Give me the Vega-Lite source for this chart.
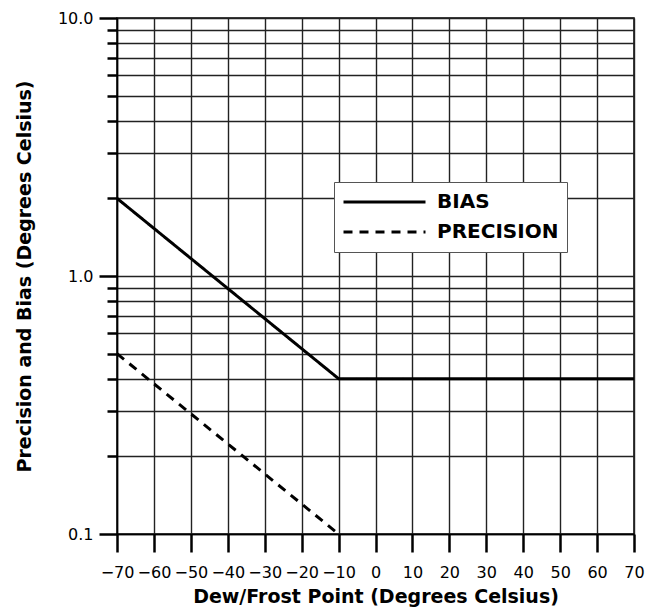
{
  "$schema": "https://vega.github.io/schema/vega-lite/v6.json",
  "width": 517,
  "height": 516,
  "autosize": {"type": "none"},
  "padding": {"left": 117, "top": 18, "right": 20, "bottom": 74},
  "background": "white",
  "config": {
    "font": "DejaVu Sans",
    "view": {"stroke": "black", "strokeWidth": 1.5},
    "axis": {
      "gridColor": "#222",
      "gridOpacity": 1,
      "gridWidth": 1.4,
      "domainColor": "black",
      "domainWidth": 1.5,
      "labelFont": "DejaVu Sans",
      "labelFontSize": 16,
      "labelColor": "black",
      "titleFont": "DejaVu Sans",
      "titleFontSize": 19,
      "titleFontWeight": "bold",
      "titleColor": "black"
    }
  },
  "data": {
    "values": [
      {"series": "BIAS", "x": -70, "y": 2.0},
      {"series": "BIAS", "x": -10, "y": 0.4},
      {"series": "BIAS", "x": 70, "y": 0.4},
      {"series": "PRECISION", "x": -70, "y": 0.5},
      {"series": "PRECISION", "x": -10, "y": 0.1}
    ]
  },
  "mark": {"type": "line", "color": "black", "strokeWidth": 3, "clip": true},
  "encoding": {
    "x": {
      "field": "x",
      "type": "quantitative",
      "scale": {"domain": [-70, 70], "nice": false, "zero": false},
      "axis": {
        "values": [-70, -60, -50, -40, -30, -20, -10, 0, 10, 20, 30, 40, 50, 60, 70],
        "title": "Dew/Frost Point (Degrees Celsius)",
        "ticks": true,
        "tickColor": "#000000",
        "tickOpacity": 1,
        "tickWidth": 2.5,
        "tickSize": 18,
        "labelPadding": 12,
        "titlePadding": 7,
        "labelFlush": false
      }
    },
    "y": {
      "field": "y",
      "type": "quantitative",
      "scale": {"type": "log", "domain": [0.1, 10], "nice": false},
      "axis": {
        "values": [0.1, 0.2, 0.3, 0.4, 0.5, 0.6, 0.7, 0.8, 0.9, 1, 2, 3, 4, 5, 6, 7, 8, 9, 10],
        "labelExpr": "datum.value == 0.1 || datum.value == 1 || datum.value == 10 ? format(datum.value, '.1f') : ''",
        "title": "Precision and Bias (Degrees Celsius)",
        "ticks": true,
        "tickColor": "#000000",
        "tickOpacity": 1,
        "tickWidth": 2.5,
        "tickSize": {"condition": {"test": "datum.value == 0.1 || datum.value == 1 || datum.value == 10", "value": 18}, "value": 10},
        "labelPadding": 6,
        "titlePadding": 23,
        "labelFlush": false
      }
    },
    "strokeDash": {
      "field": "series",
      "type": "nominal",
      "scale": {"domain": ["BIAS", "PRECISION"], "range": [[1, 0], [9, 7]]},
      "legend": {
        "title": null,
        "orient": "none",
        "legendX": 217,
        "legendY": 164,
        "fillColor": "white",
        "strokeColor": "#555",
        "padding": 8,
        "clipHeight": 24,
        "symbolType": "stroke",
        "symbolSize": 6724,
        "symbolStrokeWidth": 3,
        "symbolStrokeColor": "black",
        "labelFont": "DejaVu Sans",
        "labelFontSize": 20,
        "labelFontWeight": "bold",
        "labelColor": "black",
        "labelOffset": 10,
        "rowPadding": 6
      }
    }
  }
}
